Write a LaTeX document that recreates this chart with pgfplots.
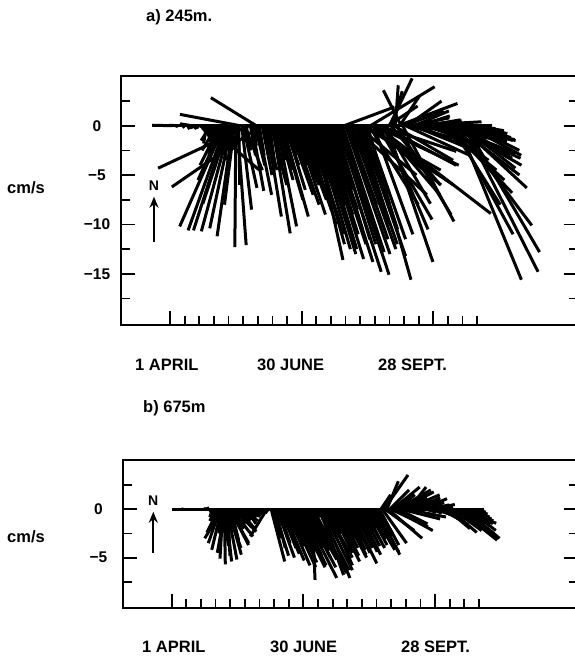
\documentclass[border=0pt]{standalone}
\usepackage{fontspec}
\setmainfont{Liberation Sans}
\usepackage{pgfplots}
\pgfplotsset{compat=1.18}
\usepackage{pgfplotstable}
\usetikzlibrary{arrows.meta}

\newcommand\lbl{\fontsize{16.5}{19}\selectfont\bfseries}
\newcommand\tck{\fontsize{15.5}{18}\selectfont\bfseries}

% current sticks: t = days since 1 April, u = east, v = north (cm/s)
\pgfplotstableread{
t u v
0 0.0 0.0
2 -2.1 0.05
4 0.2 -0.1
6 -1.0 0.05
8 0.0 0.0
10 -0.2 -0.2
12 -0.8 0.1
14 0.0 0.0
15 -1.2 0.2
16 -0.6 -0.3
17 0.4 -0.2
18 -1.0 0.0
19 -0.8 -0.2
20 -0.5 -0.3
21 0.5 -0.6
22 1.0 -1.0
23 1.3 -1.6
24 0.8 -2.2
25 -0.3 -1.8
26 5.2 -4.5
27 0.6 -2.0
28 -1.0 -1.5
29 1.0 -2.8
30 -0.5 -3.0
31 1.5 -2.2
32 -1.5 -2.5
33 0.8 -3.5
34 -2.0 -4.0
35 0.3 -2.0
36 -2.5 -5.5
37 -4.5 -10.2
38 -3.8 -10.6
39 -3.4 -10.6
40 -2.6 -7.9
41 -2.9 -10.7
42 -2.2 -10.4
43 -1.6 -11.2
44 -1.0 -8.0
45 -0.1 -12.3
46 0.9 -12.1
47 0.1 -6.0
48 -6.1 1.15
49 1.0 -8.5
50 1.4 -6.3
51 1.8 -4.5
52 0.5 -2.5
53 -0.5 -1.5
54 -9.2 -4.3
55 0.5 -3.0
56 1.2 -6.6
57 0.3 -2.0
58 1.0 -4.0
59 -4.6 2.84
60 1.4 -7.0
61 0.5 -3.0
62 -9.0 -6.2
63 1.0 -5.0
64 0.8 -3.5
65 1.2 -4.5
66 1.5 -9.2
67 0.4 -2.5
68 0.6 -4.2
69 1.6 -6.0
70 1.8 -10.9
71 0.8 -4.0
72 1.0 -3.5
73 2.0 -10.2
74 1.5 -5.5
75 1.2 -4.5
76 2.2 -7.5
77 2.6 -9.2
78 1.5 -4.0
79 2.0 -6.5
80 1.0 -3.0
81 2.5 -7.0
82 1.8 -5.0
83 2.8 -8.0
84 1.5 -4.0
85 2.5 -6.0
86 3.0 -9.0
87 2.0 -5.5
88 2.8 -7.5
89 1.5 -3.5
90 3.0 -8.5
91 2.5 -6.0
92 3.2 -10.0
93 2.0 -5.0
94 3.0 -9.0
95 3.5 -11.0
96 2.5 -7.0
97 3.3 -12.0
98 3.0 -13.6
99 3.6 -12.5
100 4.0 -13.0
101 3.0 -10.0
102 3.8 -12.5
103 2.5 -8.0
104 4.2 -13.5
105 3.5 -11.0
106 2.8 -9.0
107 4.0 -12.0
108 3.0 -8.5
109 4.4 -13.8
110 3.2 -10.5
111 2.0 -6.5
112 4.8 -14.8
113 3.5 -11.5
114 2.5 -7.0
115 3.8 -12.0
116 5.0 -15.1
117 3.0 -9.0
118 4.2 -12.8
119 5.1 1.9
120 4.5 -13.0
121 3.0 -8.0
122 4.0 -11.5
123 2.5 -6.0
124 4.5 -12.5
125 7.5 -7.0
126 3.5 -10.0
127 4.2 -12.0
128 6.0 -5.0
129 3.0 -9.5
130 4.6 -13.2
131 8.0 -4.5
132 3.5 -10.5
133 9.0 -6.0
134 4.0 -11.5
135 4.4 -15.6
136 5.0 -8.0
137 6.5 3.95
138 7.0 -6.0
139 4.0 -11.0
140 8.5 -4.0
141 11.6 -8.9
142 5.5 -9.5
143 7.8 -2.6
144 6.0 -7.0
145 7.5 -4.0
146 4.5 -10.5
147 4.6 -7.9
148 4.7 -13.8
149 3.0 2.0
150 2.3 4.8
151 5.0 -6.0
152 1.0 3.5
153 6.0 -3.5
154 0.3 4.1
155 5.5 -9.0
156 6.0 2.26
157 2.0 3.0
158 -1.8 3.6
159 5.2 -9.7
160 4.0 1.5
161 6.5 -3.0
162 3.5 2.5
163 5.5 -1.5
164 4.0 0.8
165 7.1 0.4
166 5.0 -2.0
167 3.5 1.5
168 6.0 -1.0
169 4.5 0.5
170 5.5 -2.5
171 3.0 1.0
172 6.5 -0.8
173 4.0 0.3
174 5.5 -1.8
175 3.5 0.6
176 6.0 -1.2
177 4.5 -0.5
178 5.0 -2.2
179 3.0 0.2
180 5.5 -0.8
181 6.5 -1.5
182 4.0 -2.8
183 7.0 -1.6
184 5.0 -3.5
185 7.5 -1.4
186 5.5 -4.5
187 7.3 -1.5
188 6.0 -5.5
189 7.0 -2.8
190 6.5 -6.8
191 7.2 -3.3
192 5.0 -8.0
193 7.0 -4.0
194 6.0 -11.0
195 6.5 -5.0
196 7.6 -10.1
197 6.4 -15.6
198 6.8 -6.3
199 5.5 -4.3
200 5.0 -3.3
201 7.5 -14.8
202 7.5 -12.8
203 5.5 -3.0
204 4.5 -1.5
205 5.0 -2.5
206 4.0 -1.2
207 3.5 -0.8
208 3.0 -0.5
209 2.0 -0.3
210 1.5 0.0
212 0.5 0.0
}\sticksA

\pgfplotstableread{
t u v
0 0.0 0.0
4 0.2 0.0
8 -0.2 0.05
12 0.3 0.0
16 0.0 -0.05
20 0.2 0.0
22 0.2 0.1
23 0.4 0.15
24 0.3 0.0
25 0.5 -0.2
26 0.2 -0.4
27 0.6 -0.6
28 -0.3 -0.8
29 0.5 -1.0
30 -0.6 -1.2
31 0.2 -1.6
32 -1.2 -2.4
32.5 -0.6 -1.8
33 -1.2 -3.5
33.5 -0.2 -2.5
34 -1.0 -4.2
34.5 -1.8 -3.0
35 -0.3 -5.1
35.5 0.5 -3.8
36 0.1 -5.7
36.5 -0.8 -4.5
37 0.6 -5.4
37.5 1.5 -4.0
38 1.0 -5.2
38.5 0.2 -4.8
39 1.3 -4.7
39.5 2.0 -3.5
40 1.9 -3.7
40.5 0.8 -3.2
41 2.2 -2.8
41.5 1.2 -2.0
42 2.4 -2.3
43 1.5 -1.5
44 0.5 -0.8
45 1.8 -2.0
46 0.8 -1.0
47 1.2 -1.8
48 0.3 -0.5
49 1.5 -1.2
50 -0.5 -0.8
51 1.0 -1.5
52 0.5 -1.0
53 -0.8 -1.4
54 0.8 -0.7
55 -1.0 -1.6
56 0.4 -0.6
57 -1.2 -1.5
58 0.3 -0.4
59 -1.0 -1.2
60 0.2 -0.3
61 -0.8 -1.0
62 0.1 -0.2
63 -0.6 -0.8
64 0.0 -0.1
65 -1.7 -2.8
66 -0.3 -0.4
67 0.0 0.0
68 1.4 -5.4
69 0.8 -3.0
70 1.5 -4.8
71 1.0 -4.0
72 1.8 -5.0
73 1.2 -3.5
74 2.0 -4.6
75 1.5 -4.0
76 2.2 -5.3
77 1.0 -2.5
78 2.5 -5.8
79 1.8 -3.8
80 2.8 -6.0
81 1.5 -3.2
82 2.6 -5.5
83 1.8 -4.0
84 2.0 -4.5
85 3.0 -6.0
86 1.8 -4.2
87 2.8 -5.8
88 2.2 -4.8
89 3.6 -7.1
90 2.0 -4.0
91 3.2 -6.0
92 2.5 -5.0
93 3.0 -5.2
94 2.0 -4.3
95 2.8 -5.0
96 0.3 -7.3
97 3.4 -6.6
98 0.5 -0.8
99 0.4 -0.5
100 3.2 -6.3
101 2.5 -6.8
102 3.0 -7.1
103 3.1 -6.3
104 1.5 -3.0
105 2.8 -5.0
106 1.8 -3.8
107 2.5 -5.8
108 1.2 -2.5
109 2.2 -4.5
110 2.8 -5.4
111 1.5 -3.5
112 2.4 -4.8
113 1.0 -2.2
114 2.0 -4.0
115 1.5 -3.0
116 2.6 -5.0
117 2.4 -4.7
118 1.2 -2.8
119 2.0 -4.2
120 1.5 -3.3
121 2.2 -4.5
122 2.75 -5.6
123 1.0 -2.0
124 2.0 -4.0
125 1.6 -3.2
126 2.2 -4.4
127 2.4 -4.7
128 1.4 -2.6
129 2.0 -3.8
130 1.2 -2.4
131 2.2 -4.0
132 1.5 -3.0
133 1.0 -2.0
134 2.0 -3.7
135 1.8 -3.0
136 2.5 -4.2
137 1.4 -2.2
138 2.6 -4.4
139 1.8 -2.8
140 2.4 -4.7
141 1.5 -2.5
142 2.0 -3.7
143 1.0 1.5
144 2.5 -3.5
145 2.5 3.55
146 3.0 -2.2
147 1.2 2.9
148 3.5 -3.0
149 2.0 2.0
150 3.8 -1.8
151 2.8 2.3
152 4.0 -2.2
153 2.0 1.5
154 3.5 2.0
155 3.0 -1.5
156 3.5 1.8
157 4.0 -1.0
158 2.5 1.2
159 3.0 0.5
160 3.5 1.5
161 4.0 -0.8
162 1.8 2.3
163 3.0 0.8
164 1.2 1.8
165 2.0 1.0
166 1.5 0.6
167 2.5 1.2
168 1.0 0.4
169 2.2 1.0
170 1.5 0.3
171 2.6 1.1
172 1.2 0.2
173 2.0 0.7
174 1.0 -0.3
175 2.2 0.45
176 1.5 0.0
177 2.5 0.5
178 1.0 -0.4
179 2.0 0.3
180 1.5 -0.5
181 2.5 -0.2
182 2.0 -0.8
183 3.0 -0.6
184 2.2 -1.2
185 3.0 -1.0
186 2.5 -1.6
187 3.2 -1.45
188 2.4 -2.0
189 3.5 -1.2
190 2.8 -2.4
191 3.5 -1.6
192 3.0 -2.2
193 3.8 -1.4
194 4.4 -3.0
195 3.2 -1.45
196 4.0 -3.2
197 3.6 -2.6
198 3.6 -1.45
199 3.8 -3.0
200 3.0 -1.2
201 3.2 -2.8
202 2.5 -1.0
203 2.8 -2.2
204 2.0 -0.8
205 2.2 -1.5
206 1.5 -0.5
207 1.5 -1.0
208 1.0 -0.3
209 0.8 -0.5
210 0.5 -0.2
}\sticksB

\pgfplotsset{
  stickax/.style={scale only axis, anchor=south west,
    axis line style={line width=2pt},
    tick style={black, line width=1.8pt}, tick align=inside,
    major tick length=14pt, minor tick length=9pt,
    xtick pos=left, xtick={0,90,180}, minor xtick={0,10,...,210}, xticklabels={},
    yticklabel style={font=\tck, anchor=center, xshift=-24pt}},
  stick/.style={black, line width=3pt},
}

\begin{document}
\begin{tikzpicture}
\useasboundingbox (0pt,0pt) rectangle (575pt,657pt);

% a) 245 m
\begin{axis}[stickax, at={(121pt,332pt)}, width=457pt, height=249pt,
  xmin=-33.5, xmax=278.9, ymin=-20.19, ymax=5.04,
  ytick={-15,-10,-5,0}, yticklabels={−15,−10,−5,0},
  minor ytick={-17.5,-12.5,-7.5,-2.5,2.5}]
\addplot[stick] coordinates {(0,0) (214,0)};
\addplot[stick, quiver={u=\thisrow{u}*6.75, v=\thisrow{v}}] table[x=t, y expr=0] {\sticksA};
\end{axis}

% b) 675 m
\begin{axis}[stickax, at={(122.5pt,49.3pt)}, width=455.5pt, height=147.7pt,
  xmin=-33.6, xmax=277.7, ymin=-10.18, ymax=5.1,
  ytick={-5,0}, yticklabels={−5,0},
  minor ytick={-7.5,-2.5,2.5}]
\addplot[stick] coordinates {(0,0) (213.7,0)};
\addplot[stick, quiver={u=\thisrow{u}*6.61, v=\thisrow{v}}] table[x=t, y expr=0] {\sticksB};
\end{axis}

% titles, units, dates
\node[anchor=west, inner sep=0, font=\lbl] at (146pt,640pt) {a) 245m.};
\node[anchor=west, inner sep=0, font=\lbl] at (143pt,249pt) {b) 675m};
\node[anchor=west, inner sep=0, font=\lbl] at (7pt,469pt) {cm/s};
\node[anchor=west, inner sep=0, font=\lbl] at (7pt,120.3pt) {cm/s};
\foreach \x/\s in {135/1 APRIL, 257/30 JUNE, 378/28 SEPT.}
  \node[anchor=west, inner sep=0, font=\lbl] at (\x pt,292pt) {\s};
\foreach \x/\s in {142/1 APRIL, 270/30 JUNE, 401/28 SEPT.}
  \node[anchor=west, inner sep=0, font=\lbl] at (\x pt,10.3pt) {\s};

% north arrows
\draw[line width=2pt, -{Stealth[length=11pt,width=9pt]}] (154pt,415.3pt) -- (154pt,460.3pt);
\node[font=\fontsize{14}{16}\selectfont\bfseries, inner sep=0] at (154pt,471pt) {N};
\draw[line width=2pt, -{Stealth[length=11pt,width=9pt]}] (153.3pt,104.3pt) -- (153.3pt,145.3pt);
\node[font=\fontsize{14}{16}\selectfont\bfseries, inner sep=0] at (153.3pt,156pt) {N};
\end{tikzpicture}
\end{document}
